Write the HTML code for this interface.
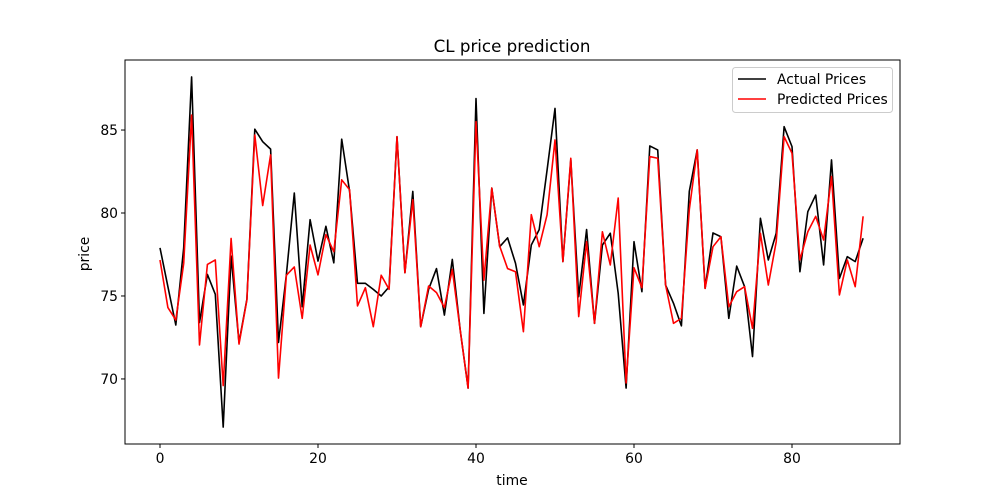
<!DOCTYPE html>
<html><head><meta charset="utf-8"><style>
body{margin:0;background:#fff;}
svg{display:block;font-family:"DejaVu Sans","Liberation Sans",sans-serif;}
</style></head><body>
<svg id="chart" width="1000" height="500">
<rect width="1000" height="500" fill="#fff"/>
</svg>
<script>
const actual=[77.9,75.56,73.25,77.9,88.2,73.4,76.3,75.1,67.1,77.4,72.2,74.8,85.05,84.3,83.85,72.2,76.3,81.2,74.35,79.6,77.1,79.2,77.0,84.45,81.3,75.76,75.76,75.4,75.0,75.55,84.6,76.4,81.3,73.15,75.4,76.65,73.85,77.2,72.95,69.45,86.9,73.95,81.5,77.97,78.5,76.97,74.46,78.07,79.0,82.6,86.3,77.07,83.2,74.96,79.0,73.35,78.07,78.78,75.16,69.45,78.27,75.26,84.04,83.8,75.66,74.56,73.2,81.3,83.8,75.46,78.8,78.57,73.65,76.8,75.56,71.35,79.68,77.17,78.78,85.2,84.0,76.46,80.08,81.08,76.87,83.2,76.06,77.37,77.07,78.48];
const predicted=[77.17,74.3,73.55,76.96,85.9,72.05,76.9,77.17,69.6,78.47,72.1,74.76,84.7,80.45,83.5,70.05,76.25,76.75,73.65,78.07,76.27,78.7,77.67,82.0,81.4,74.4,75.5,73.15,76.25,75.4,84.6,76.4,80.8,73.15,75.6,75.2,74.3,76.6,72.95,69.45,85.5,75.95,81.5,78.0,76.65,76.46,72.85,79.9,77.97,79.9,84.4,77.07,83.3,73.76,78.27,73.35,78.87,76.87,80.9,69.76,76.7,75.5,83.4,83.3,75.66,73.35,73.65,80.2,83.8,75.46,77.97,78.57,74.35,75.26,75.56,73.05,78.78,75.66,78.27,84.6,83.6,77.17,78.87,79.8,78.37,82.2,75.06,77.17,75.56,79.8];
const xTicks=[0,20,40,60,80];
const yTicks=[70,75,80,85];
const L=125,R=900,T=60,B=444;
const xMin=-4.43,xMax=93.67,yMin=66.08,yMax=89.22;
const X=v=>L+(v-xMin)/(xMax-xMin)*(R-L);
const Y=v=>B-(v-yMin)/(yMax-yMin)*(B-T);
const svg=document.getElementById('chart');
const NS='http://www.w3.org/2000/svg';
function mk(tag,attrs,parent){const e=document.createElementNS(NS,tag);for(const k in attrs)e.setAttribute(k,attrs[k]);(parent||svg).appendChild(e);return e;}
function line(data,color,name){
  const p=mk('polyline',{points:data.map((v,i)=>X(i).toFixed(2)+','+Y(v).toFixed(2)).join(' '),fill:'none',stroke:color,'stroke-width':1.6,'stroke-linejoin':'round'});
  
  
}
line(actual,'#000','actual-prices-line');
line(predicted,'#f00','predicted-prices-line');
const frame=mk('rect',{x:L,y:T,width:R-L,height:B-T,fill:'none',stroke:'#000','stroke-width':1});


xTicks.forEach(t=>{
  const x=X(t);
  mk('line',{x1:x,x2:x,y1:B,y2:B+4,stroke:'#000'});
  const tx=mk('text',{x:x,y:B+19,'font-size':13.9,'text-anchor':'middle'});
  tx.textContent=t;
  
  
});
yTicks.forEach(t=>{
  const y=Y(t);
  mk('line',{x1:L-4,x2:L,y1:y,y2:y,stroke:'#000'});
  const tx=mk('text',{x:L-7,y:y+5,'font-size':13.9,'text-anchor':'end'});
  tx.textContent=t;
  
  
});
</script>
<svg width="1000" height="500" style="position:absolute;left:0;top:0">
<text x="512" y="52" font-size="16.7" text-anchor="middle">CL price prediction</text>
<text x="512" y="485" font-size="13.9" text-anchor="middle">time</text>
<text x="89" y="254" font-size="13.9" text-anchor="middle" transform="rotate(-90 89 254)">price</text>
<g>
<rect x="732.5" y="67.5" width="160" height="45" rx="3" fill="#fff" fill-opacity="0.8" stroke="#ccc"/>
<line x1="738" x2="766" y1="79" y2="79" stroke="#000" stroke-width="1.6"/>
<text x="777" y="84" font-size="13.9">Actual Prices</text>
<line x1="738" x2="766" y1="99" y2="99" stroke="#f00" stroke-width="1.6"/>
<text x="777" y="104" font-size="13.9">Predicted Prices</text>
</g>
</svg>
</body></html>
